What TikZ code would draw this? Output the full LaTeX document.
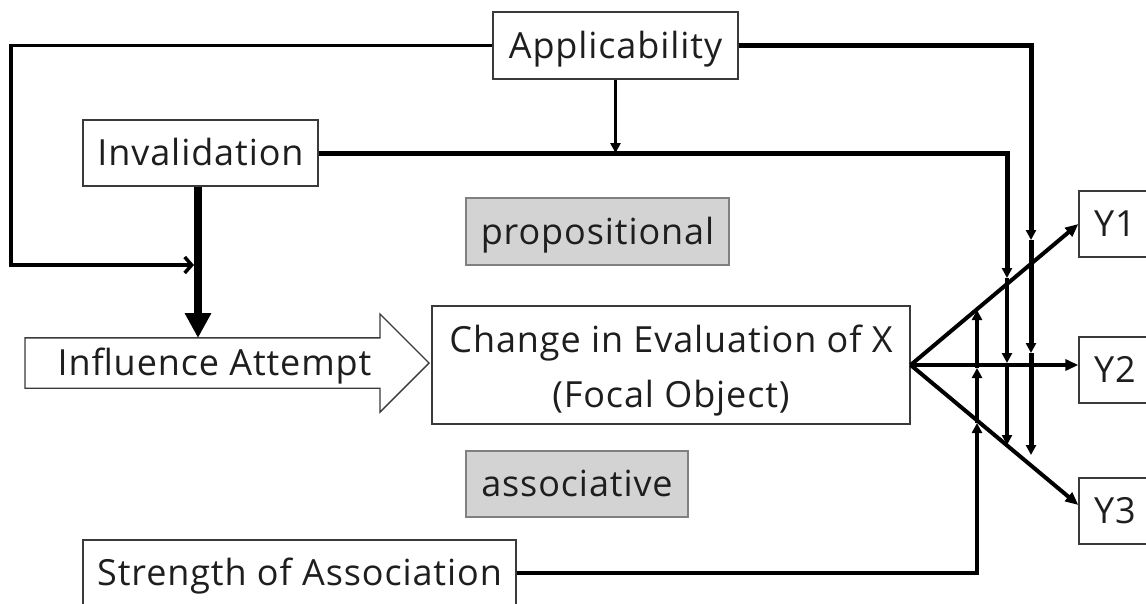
\documentclass[tikz,border=0pt]{standalone}
\usepackage{fontspec}
\setmainfont[LetterSpace=2.5]{Open Sans}
\usetikzlibrary{arrows.meta,shapes.arrows,calc}

\definecolor{txt}{HTML}{1E1E1E}
\definecolor{boxline}{HTML}{3A3A3A}
\definecolor{shade}{HTML}{D3D3D3}
\definecolor{grayline}{HTML}{808080}

\begin{document}
\begin{tikzpicture}[x=1pt,y=-1pt,
  every node/.style={font=\fontsize{36}{55}\selectfont, text=txt},
  plainbox/.style={draw=boxline, line width=1.3pt, fill=white, inner sep=0pt},
  box/.style={plainbox, text height=25pt, text depth=0pt},
  graybox/.style={box, fill=shade, draw=grayline},
  midtip/.style={-{Triangle[length=10pt,width=10pt]}},
  outtip/.style={-{Triangle[length=13pt,width=11pt]}},
]
\useasboundingbox (0,0) rectangle (1146,603);

% boxes
\node[box, minimum width=245pt, minimum height=67pt] (app) at (615.5,45.5) {Applicability};
\node[box, minimum width=235pt, minimum height=66pt] (inv) at (200.5,153) {Invalidation};
\node[graybox, minimum width=263pt, minimum height=67pt] (prop) at (597.5,231.5) {propositional};
\node[plainbox, minimum width=478pt, minimum height=118pt, align=center]
  (chg) at (671,365) {\rule{0pt}{39pt}Change in Evaluation of X\\(Focal Object)};
\node[graybox, minimum width=222pt, minimum height=66pt] (assoc) at (577,484) {associative};
\node[box, minimum width=433pt, minimum height=66pt] (str) at (299.5,573) {Strength of Association};
\node[box, minimum width=72pt, minimum height=66pt] (y1) at (1115,224) {Y1};
\node[box, minimum width=72pt, minimum height=66pt] (y2) at (1115,370) {Y2};
\node[box, minimum width=72pt, minimum height=66pt] (y3) at (1115,511) {Y3};

% block arrow into the evaluation box
\node[plainbox, single arrow, single arrow head extend=24pt,
      single arrow tip angle=90, minimum width=97pt, minimum height=404pt,
      text height=37pt, text depth=12pt, anchor=tip] (infl) at (430,363) {Influence Attempt};

% junction points
\coordinate (lft) at (11,265);
\coordinate (jn) at (194,265);
\coordinate (infltop) at (198,338);
\coordinate (a1) at (1007,278);
\coordinate (a2) at (1007,363);
\coordinate (a3) at (1007,445);
\coordinate (b1) at (1031,240);
\coordinate (b2) at (1031,353);
\coordinate (b3) at (1031,455);
\coordinate (c1) at (977,423);
\coordinate (c2) at (977,368);
\coordinate (c3) at (977,310);

% outputs
\draw[line width=4pt, outtip] (chg.east) -- (y1.west);
\draw[line width=4pt, outtip] (chg.east) -- (chg.east -| y2.west);
\draw[line width=4pt, outtip] (chg.east) -- ($(y3.west)+(0,-6)$);

% applicability: left loop into the invalidation stem
\draw[line width=3.5pt, -{Straight Barb[length=7pt,width=16pt]}] (app.west) -| (lft) -- (jn);
% invalidation stem onto the influence attempt
\draw[line width=8pt, -{Triangle[length=25pt,width=25pt]}] (inv.south -| infltop) -- (infltop);
% applicability onto the invalidation line
\draw[line width=2.5pt, midtip] (app.south) -- (app.south |- inv.east);

% invalidation line across the three outputs
\draw[line width=5pt, midtip] (inv.east) -| (a1);
\draw[line width=3.5pt, midtip] (a1) -- (a2);
\draw[line width=3.5pt, midtip] (a2) -- (a3);

% applicability line across the three outputs
\draw[line width=5pt, midtip] (app.east) -| (b1);
\draw[line width=5pt, midtip] (b1) -- (b2);
\draw[line width=5pt, midtip] (b2) -- (b3);

% strength of association up across the three outputs
\draw[line width=4pt, midtip] (str.east) -| (c1);
\draw[line width=4pt, midtip] (c1) -- (c2);
\draw[line width=4pt, midtip] (c2) -- (c3);
\end{tikzpicture}
\end{document}
